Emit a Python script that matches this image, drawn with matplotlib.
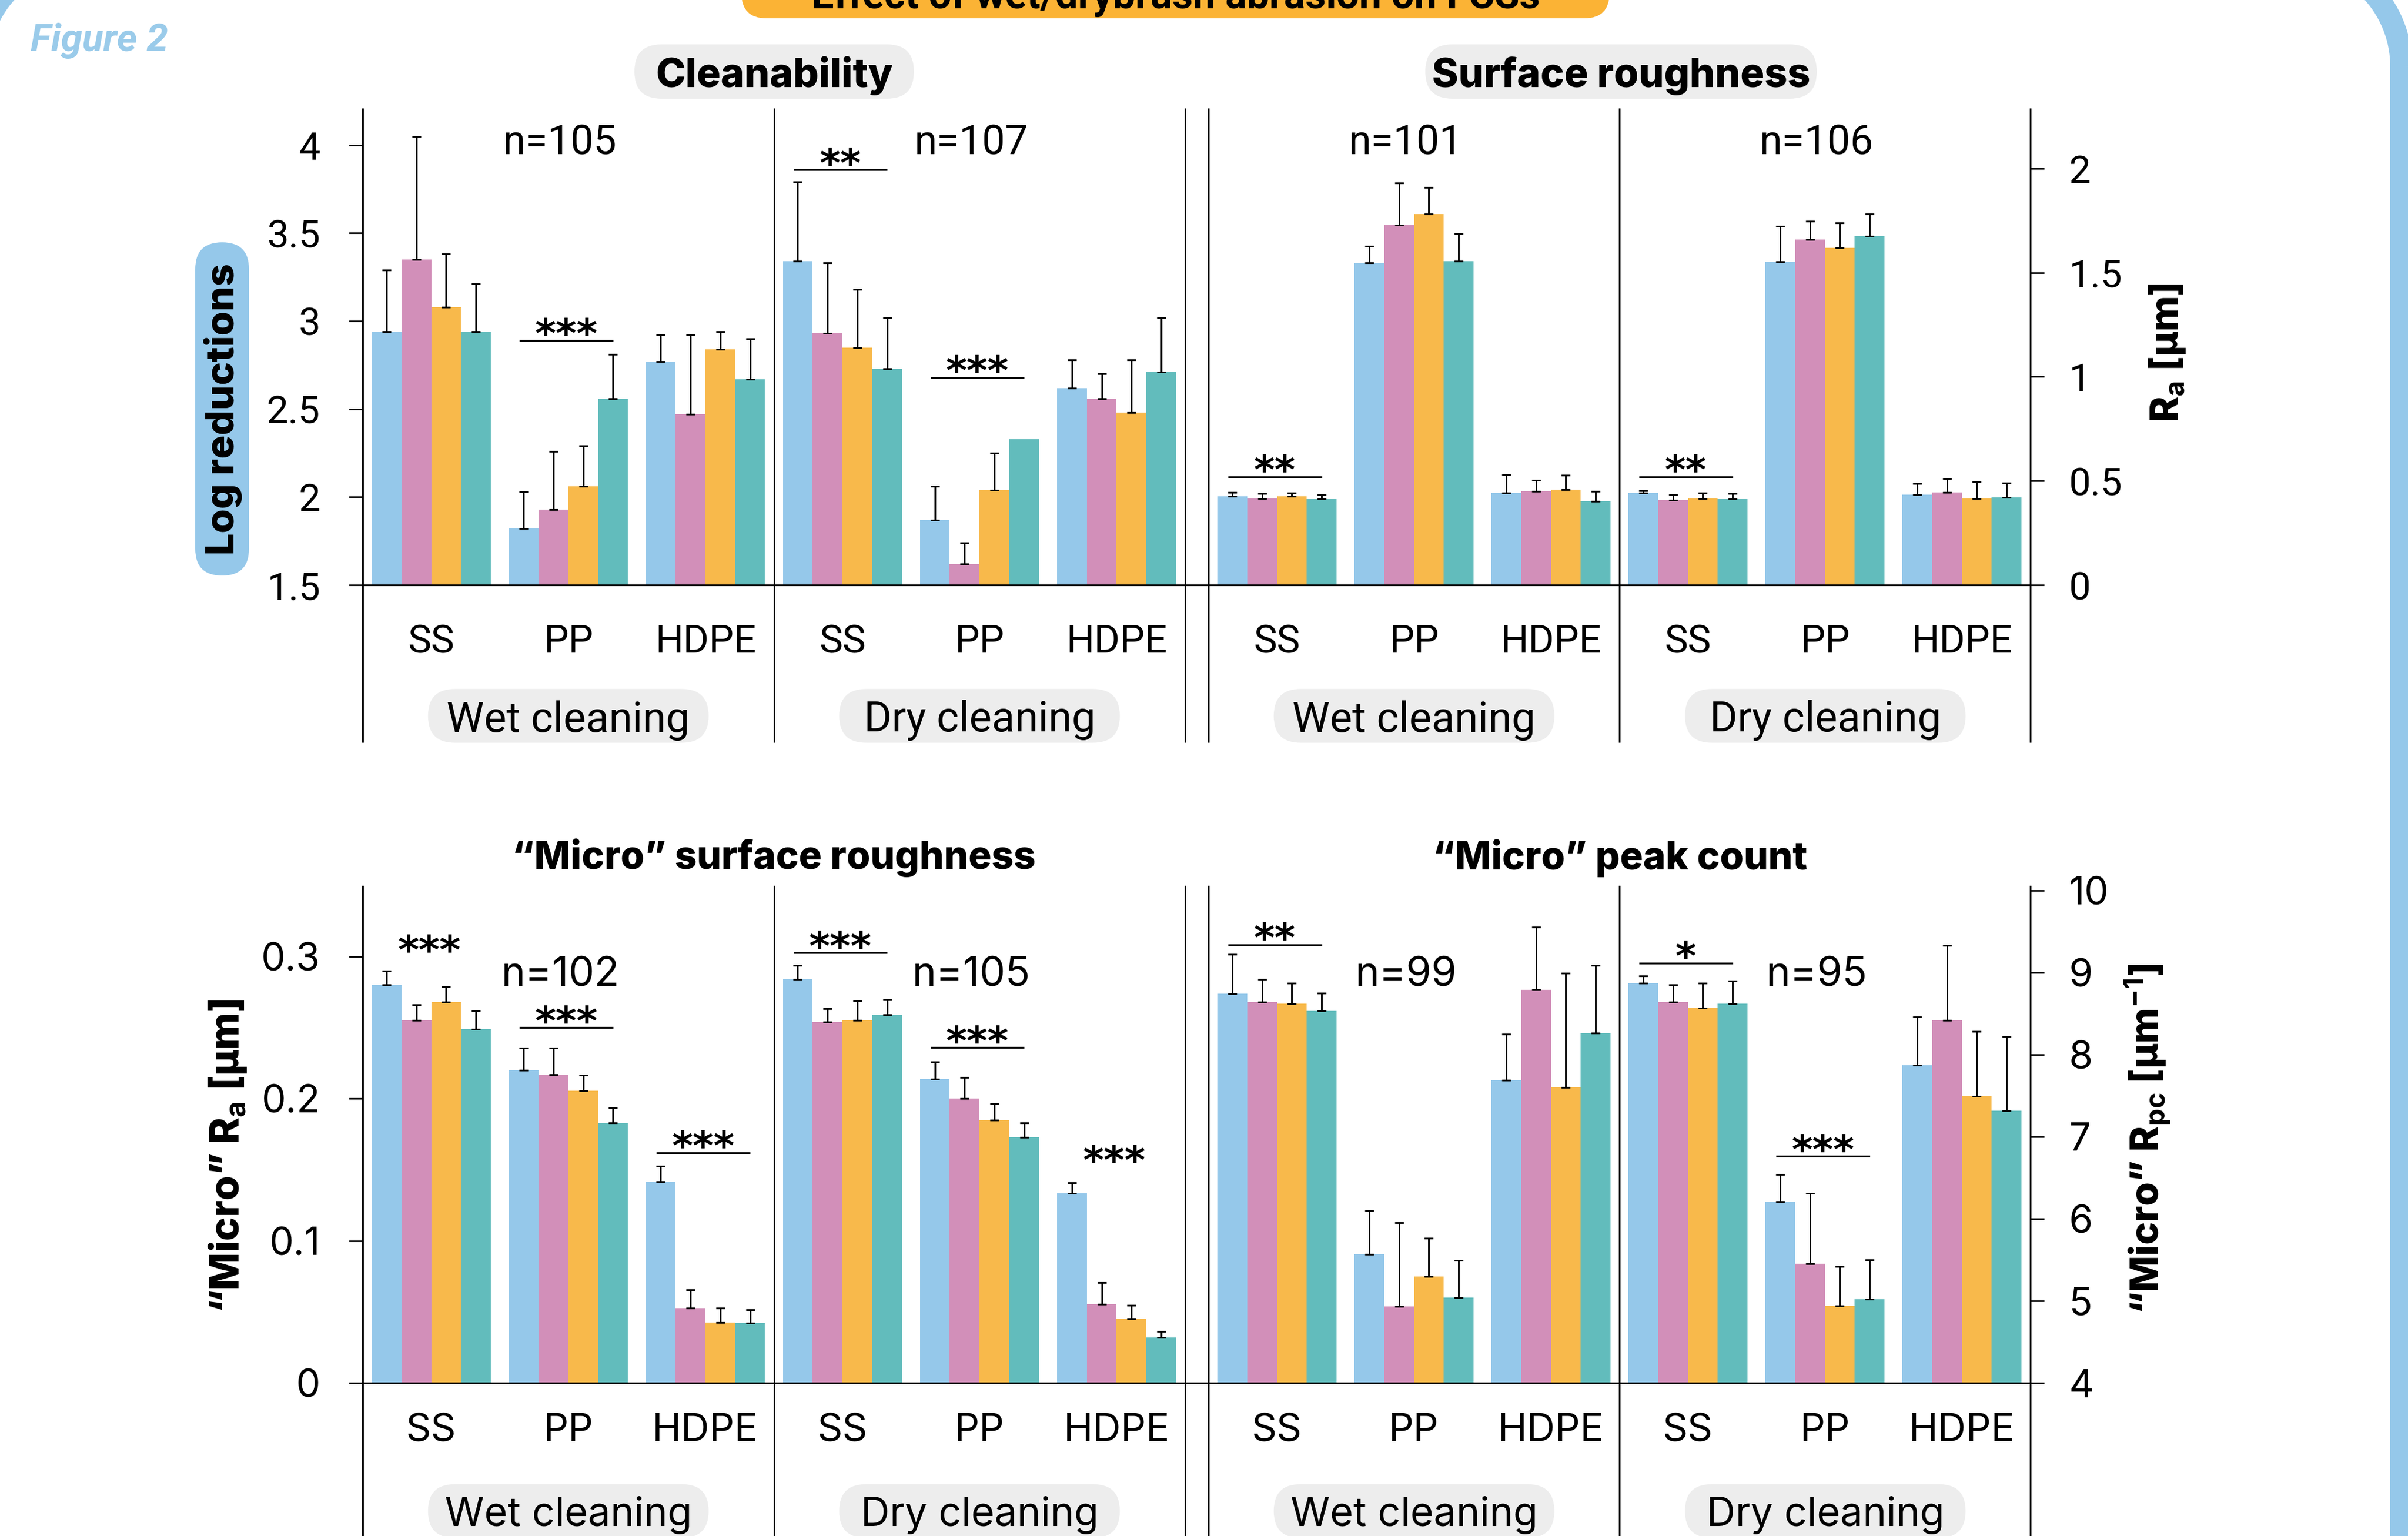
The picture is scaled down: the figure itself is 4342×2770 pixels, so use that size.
import numpy as np
import matplotlib
matplotlib.use('Agg')
import matplotlib.pyplot as plt
from matplotlib.patches import FancyBboxPatch, Arc, Rectangle

plt.rcParams['font.family'] = ['Inter', 'DejaVu Sans']
plt.rcParams['mathtext.fontset'] = 'custom'
plt.rcParams['mathtext.rm'] = 'Inter'
plt.rcParams['mathtext.bf'] = 'Inter:bold'
plt.rcParams['mathtext.it'] = 'Inter:italic'

# --- data ---------------------------------------------------------------
materials = ['SS', 'PP', 'HDPE']
cleanings = ['Wet cleaning', 'Dry cleaning']
colors = ['#95C8EA', '#D28FB9', '#F8B94B', '#62BCBC']

# rows: wet SS, wet PP, wet HDPE, dry SS, dry PP, dry HDPE / 4 bars each
clean_mean = [[2.94, 3.35, 3.08, 2.94],
              [1.82, 1.93, 2.06, 2.56],
              [2.77, 2.47, 2.84, 2.67],
              [3.34, 2.93, 2.85, 2.73],
              [1.87, 1.62, 2.04, 2.33],
              [2.62, 2.56, 2.48, 2.71]]
clean_err = [[0.35, 0.70, 0.30, 0.27],
             [0.21, 0.33, 0.23, 0.25],
             [0.15, 0.45, 0.10, 0.23],
             [0.45, 0.40, 0.33, 0.29],
             [0.19, 0.12, 0.21, 0.00],
             [0.16, 0.14, 0.30, 0.31]]

rough_mean = [[0.426, 0.416, 0.426, 0.413],
              [1.547, 1.728, 1.782, 1.555],
              [0.441, 0.450, 0.459, 0.403],
              [0.441, 0.408, 0.416, 0.413],
              [1.552, 1.660, 1.619, 1.675],
              [0.434, 0.446, 0.415, 0.421]]
rough_err = [[0.019, 0.023, 0.016, 0.020],
             [0.081, 0.202, 0.126, 0.133],
             [0.090, 0.052, 0.067, 0.046],
             [0.012, 0.026, 0.026, 0.026],
             [0.171, 0.088, 0.121, 0.106],
             [0.053, 0.065, 0.080, 0.070]]

mra_mean = [[0.280, 0.255, 0.268, 0.249],
            [0.220, 0.217, 0.2055, 0.183],
            [0.1415, 0.0526, 0.0427, 0.0421],
            [0.284, 0.254, 0.255, 0.259],
            [0.214, 0.200, 0.185, 0.173],
            [0.1336, 0.0555, 0.0453, 0.0319]]
mra_err = [[0.010, 0.011, 0.011, 0.013],
           [0.0155, 0.0185, 0.011, 0.0105],
           [0.011, 0.013, 0.010, 0.0095],
           [0.010, 0.0095, 0.0137, 0.0105],
           [0.012, 0.015, 0.0115, 0.010],
           [0.0073, 0.015, 0.0095, 0.0042]]

rpc_mean = [[8.74, 8.64, 8.62, 8.53],
            [5.57, 4.93, 5.30, 5.04],
            [7.69, 8.79, 7.60, 8.26],
            [8.87, 8.64, 8.57, 8.62],
            [6.21, 5.45, 4.94, 5.02],
            [7.87, 8.42, 7.49, 7.32]]
rpc_err = [[0.48, 0.28, 0.25, 0.22],
           [0.53, 1.02, 0.46, 0.45],
           [0.56, 0.76, 1.39, 0.83],
           [0.09, 0.21, 0.30, 0.28],
           [0.33, 0.86, 0.48, 0.48],
           [0.59, 0.91, 0.79, 0.90]]

# significance: (group, level, stars, with line)
clean_sig = [(1, 2.89, '***', True), (3, 3.86, '**', True), (4, 2.68, '***', True)]
rough_sig = [(0, 0.52, '**', True), (3, 0.52, '**', True)]
mra_sig = [(0, 0.300, '***', False), (1, 0.250, '***', True), (2, 0.162, '***', True),
           (3, 0.3027, '***', True), (4, 0.236, '***', True), (5, 0.152, '***', False)]
rpc_sig = [(0, 9.34, '**', True), (3, 9.115, '*', True), (4, 6.76, '***', True)]

clean_n = ['n=105', 'n=107']
rough_n = ['n=101', 'n=106']
mra_n = ['n=102', 'n=105']
rpc_n = ['n=99', 'n=95']

clean_ticks = [1.5, 2, 2.5, 3, 3.5, 4]
clean_ticklabels = ['1.5', '2', '2.5', '3', '3.5', '4']
rough_ticks = [0, 0.5, 1, 1.5, 2]
rough_ticklabels = ['0', '0.5', '1', '1.5', '2']
mra_ticks = [0, 0.1, 0.2, 0.3]
mra_ticklabels = ['0', '0.1', '0.2', '0.3']
rpc_ticks = [4, 5, 6, 7, 8, 9, 10]
rpc_ticklabels = ['4', '5', '6', '7', '8', '9', '10']

# --- figure -------------------------------------------------------------
W, H = 4342, 2770
fig = plt.figure(figsize=(W / 100, H / 100), dpi=100)
bg = fig.add_axes([0, 0, 1, 1])
bg.set_xlim(0, W)
bg.set_ylim(H, 0)
bg.axis('off')


def add_px_axes(x0, y0, x1, y1):
    ax = fig.add_axes([x0 / W, 1 - y1 / H, (x1 - x0) / W, (y1 - y0) / H])
    ax.set_facecolor('none')
    return ax


def pill(x0, y0, x1, y1, color, r=None):
    if r is None:
        r = min(x1 - x0, y1 - y0) / 2
    bg.add_patch(FancyBboxPatch((x0 + r, y0 + r), x1 - x0 - 2 * r, y1 - y0 - 2 * r,
                                boxstyle='round,pad=%g' % r, fc=color, ec='none'))


def draw_panel(ax, means, errs, ylim, ticks, ticklabels, side, sigs, notes, note_y,
               font, xpad, ypad):
    means = np.array(means)
    errs = np.array(errs)
    ng, ns = means.shape
    bw = 0.2175
    x = np.arange(ng)
    for i in range(ns):
        xs = x + (i - (ns - 1) / 2) * bw
        ax.bar(xs, means[:, i], width=bw, color=colors[i], zorder=2)
        m = errs[:, i] > 0
        ax.errorbar(xs[m], means[m, i], yerr=[np.zeros(m.sum()), errs[m, i]], fmt='none',
                    ecolor='black', elinewidth=2.2, capsize=6, capthick=2.2, zorder=3)
    ax.set_xlim(-0.5, ng - 0.5)
    ax.set_ylim(*ylim)
    for s in ['top', 'left', 'right']:
        ax.spines[s].set_visible(False)
    ax.spines['bottom'].set_linewidth(2.2)
    ax.spines['bottom'].set_zorder(4)
    for xv in [-0.5, 2.5, 5.5]:
        ax.plot([xv, xv], [-0.33, 1], transform=ax.get_xaxis_transform(), color='black',
                lw=2.2, clip_on=False, solid_capstyle='butt')
    ax.set_yticks(ticks)
    ax.set_yticklabels(ticklabels)
    if side == 'right':
        ax.yaxis.tick_right()
    ax.tick_params(axis='y', direction='out', length=18, width=2, labelsize=50, pad=ypad)
    ax.set_xticks(x)
    ax.set_xticklabels(materials * 2)
    ax.tick_params(axis='x', length=0, labelsize=51, pad=xpad)
    for lab in ax.get_xticklabels() + ax.get_yticklabels():
        lab.set_fontfamily(font)
    for g, lvl, stars, line in sigs:
        if line:
            ax.plot([g - 0.35, g + 0.32], [lvl, lvl], color='black', lw=2.4, zorder=3)
        ax.annotate(stars, (g - 0.015, lvl), xytext=(0, -9), textcoords='offset points',
                    ha='center', va='baseline', fontsize=52, fontweight='bold',
                    family='DejaVu Sans')
    for txt, xf in zip(notes, [0.24, 0.74]):
        ax.text(xf, note_y, txt, transform=ax.transAxes, ha='center',
                va='center_baseline', fontsize=53, family=font)


ax_clean = add_px_axes(654, 195, 2137, 1055)
ax_rough = add_px_axes(2179, 195, 3661, 1055)
ax_mra = add_px_axes(654, 1597, 2137, 2494)
ax_rpc = add_px_axes(2179, 1597, 3661, 2494)

draw_panel(ax_clean, clean_mean, clean_err, (1.5, 4.21), clean_ticks, clean_ticklabels,
           'left', clean_sig, clean_n, 0.935, 'Roboto', 50, 37)
draw_panel(ax_rough, rough_mean, rough_err, (0, 2.29), rough_ticks, rough_ticklabels,
           'right', rough_sig, rough_n, 0.935, 'Roboto', 50, 32)
draw_panel(ax_mra, mra_mean, mra_err, (0, 0.35), mra_ticks, mra_ticklabels,
           'left', mra_sig, mra_n, 0.828, 'Inter', 39, 37)
draw_panel(ax_rpc, rpc_mean, rpc_err, (4, 10.06), rpc_ticks, rpc_ticklabels,
           'right', rpc_sig, rpc_n, 0.828, 'Inter', 39, 32)

# baseline continues through the gap between the two panels of a row
for ax in [ax_clean, ax_mra]:
    ax.plot([1, 1 + 42 / 1483], [0, 0], transform=ax.transAxes, color='black', lw=2.2,
            clip_on=False, solid_capstyle='butt')

# cleaning method boxes
for ax, x0, cy, font, fs in [(ax_clean, 654, 1291, 'Roboto', 55), (ax_rough, 2179, 1291, 'Roboto', 55),
                             (ax_mra, 654, 2725, 'Inter', 52), (ax_rpc, 2179, 2725, 'Inter', 52)]:
    for xd, lab in zip([1, 4], cleanings):
        cx = x0 + (xd + 0.5) * 1483 / 6
        pill(cx - 253, cy - 48.5, cx + 253, cy + 48.5, '#EDEDED')
        bg.text(cx, cy, lab, ha='center', va='center_baseline', fontsize=fs, family=font)

# panel titles
pill(1144, 80, 1648, 178, '#EDEDED')
bg.text(1396, 129, 'Cleanability', ha='center', va='center_baseline', fontsize=52,
        fontweight='heavy')
pill(2570, 80, 3276, 178, '#EDEDED')
bg.text(2923, 129, 'Surface roughness', ha='center', va='center_baseline', fontsize=52,
        fontweight='heavy')
bg.text(1395, 1540, '\u201cMicro\u201d surface roughness', ha='center', va='center_baseline',
        fontsize=50, fontweight='heavy')
bg.text(2921, 1540, '\u201cMicro\u201d peak count', ha='center', va='center_baseline',
        fontsize=50, fontweight='heavy')

# axis labels
pill(352, 437, 449, 1038, '#95C8EA')
bg.text(402, 738, 'Log reductions', rotation=90, ha='center', va='center', fontsize=51,
        fontweight='heavy')
bg.text(3907, 636, 'R$_\\mathbf{a}$ [µm]', rotation=90, ha='center', va='center',
        fontsize=50, fontweight='heavy')
bg.text(411, 2085, '\u201cMicro\u201d R$_\\mathbf{a}$ [µm]', rotation=90, ha='center',
        va='center', fontsize=52, fontweight='heavy')
bg.text(3872, 2054, '\u201cMicro\u201d R$_\\mathbf{pc}$ [µm$^\\mathbf{-1}$]', rotation=90,
        ha='center', va='center', fontsize=50, fontweight='heavy')

# header
pill(1337, -140, 2902, 33, '#FBB335', r=45)
bg.text(2120, 15, 'Effect of wet/drybrush abrasion on FCSs', ha='center', va='baseline',
        fontsize=52, fontweight='bold', family='Roboto')
bg.text(55, 92, 'Figure 2', ha='left', va='baseline', fontsize=50, style='italic',
        fontweight='semibold', color='#9ACBEA', family='Roboto')

# frame edge (only the right side and the top corners reach into the picture)
frame = '#95C8EA'
bg.add_patch(Arc((4130, 120), 400, 400, theta1=270, theta2=360, ec=frame, lw=28.8))
bg.add_patch(Arc((160, 120), 400, 400, theta1=180, theta2=270, ec=frame, lw=28.8))
bg.add_patch(Rectangle((4310, 120), 40, H, fc=frame, ec='none'))

fig.savefig('out.png', dpi=100)
